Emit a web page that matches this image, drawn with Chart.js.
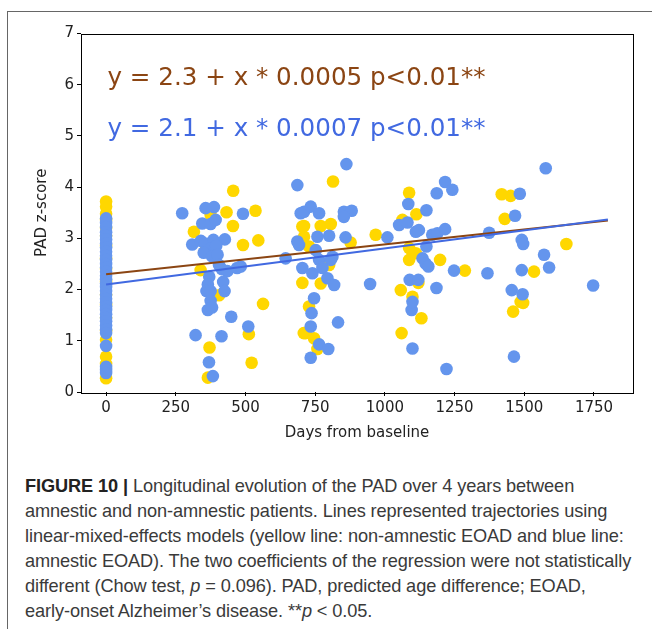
<!DOCTYPE html>
<html>
<head>
<meta charset="utf-8">
<script src="https://cdn.jsdelivr.net/npm/chart.js@4.4.1/dist/chart.umd.min.js"></script>
<style>
  html, body { margin: 0; padding: 0; background: #fff; }
  body { width: 652px; height: 629px; position: relative; overflow: hidden; }
  #frame { position: absolute; left: 7px; top: 11px; width: 700px; height: 700px;
           border-top: 1px solid #666; border-left: 1px solid #666; }
  #chartBox { position: absolute; left: 0; top: 0; }
  #caption { position: absolute; left: 25px; top: 474px; font-family: "Liberation Sans", Arial, sans-serif;
             font-size: 18.2px; line-height: 24.9px; color: #3a3a3a; white-space: nowrap; letter-spacing: -0.1px; }
  #caption b { color: #222; }
</style>
</head>
<body>
<div id="frame"></div>
<div id="chartBox"><canvas id="graphCanvas" width="652" height="446"></canvas></div>
<div id="caption">
  <b>FIGURE 10 |</b> Longitudinal evolution of the PAD over 4 years between<br>
  amnestic and non-amnestic patients. Lines represented trajectories using<br>
  linear-mixed-effects models (yellow line: non-amnestic EOAD and blue line:<br>
  amnestic EOAD). The two coefficients of the regression were not statistically<br>
  different (Chow test, <i>p</i> = 0.096). PAD, predicted age difference; EOAD,<br>
  early-onset Alzheimer’s disease. **<i>p</i> &lt; 0.05.
</div>
<script>
// non-amnestic EOAD (yellow)
const yellowDays = [0, 0, 0, 0, 0, 0, 0, 0, 0, 0, 0, 0, 0, 0, 0, 0, 0, 0,
  315, 357, 339, 405, 371, 365, 375, 432, 456, 455, 491, 536, 546, 563, 512, 522,
  704, 704, 709, 710, 770, 806, 710, 728, 814, 877, 967, 770, 800, 728, 716, 746, 758,
  1087, 1087, 1087, 1057, 1060, 1063, 1113, 1111, 1198, 1287, 1120, 1099, 1131,
  1419, 1451, 1430, 1487, 1460, 1535, 1651, 1496];
const yellowPad = [3.72, 3.62, 3.48, 3.36, 3.2, 3.05, 2.85, 2.6, 2.4, 2.15, 1.9, 1.7, 1.45, 1.2, 1.02, 0.69, 0.55, 0.27,
  3.13, 2.77, 2.38, 1.89, 0.87, 0.28, 3.46, 3.51, 3.93, 3.24, 2.87, 3.54, 2.96, 1.72, 1.13, 0.57,
  3.23, 2.13, 1.15, 3.24, 3.24, 3.28, 3.03, 2.84, 4.11, 2.92, 3.07, 2.12, 2.48, 1.67, 1.15, 1.05, 0.84,
  3.89, 2.81, 2.58, 1.99, 1.15, 3.36, 3.47, 2.71, 2.58, 2.37, 2.13, 1.86, 1.44,
  3.86, 3.83, 3.38, 1.76, 1.57, 2.35, 2.89, 1.74];

// amnestic EOAD (blue)
const blueDays = [0, 0, 0, 0, 0, 0, 0, 0, 0, 0, 0, 0, 0, 0, 0, 0, 0, 0, 0, 0, 0, 0, 0, 0, 0, 0, 0, 0, 0, 0, 0, 0, 0, 0,
  273, 357, 387, 491, 345, 375, 393, 426, 309,
  340, 355, 385, 375, 395, 350, 380, 400,
  405, 415, 435, 470, 483,
  370, 365, 360, 375, 420, 425,
  375, 365, 380, 449, 510, 321, 414, 369, 383,
  686, 698, 686, 692, 644, 704,
  862, 710, 734, 764, 853, 881, 853,
  758, 800, 859, 1009, 1051, 1081, 1084,
  752, 764, 812, 806, 740, 776, 794, 818, 947, 1089,
  746, 737, 734, 832, 764, 797, 734, 1096, 1099,
  1216, 1242, 1186, 1149, 1111, 1122, 1170, 1188, 1216,
  1149, 1135, 1146, 1156, 1248, 1368, 1374, 1120, 1185, 1099, 1221,
  1484, 1467, 1491, 1496, 1491, 1455, 1494, 1463,
  1577, 1571, 1589, 1747];
const bluePad = [3.39, 3.3, 3.22, 3.12, 3.05, 2.98, 2.9, 2.82, 2.74, 2.66, 2.58, 2.5, 2.43, 2.35, 2.27, 2.2, 2.12,
  2.05, 1.97, 1.9, 1.82, 1.75, 1.67, 1.6, 1.52, 1.45, 1.38, 1.3, 1.22, 1.15, 0.9, 0.49, 0.43, 0.37,
  3.49, 3.59, 3.61, 3.48, 3.29, 3.28, 3.36, 2.98, 2.88,
  2.95, 2.9, 2.97, 2.80, 2.85, 2.72, 2.65, 2.68,
  2.48, 2.40, 2.36, 2.42, 2.45,
  2.25, 2.10, 1.97, 1.97, 2.15, 1.97,
  1.78, 1.60, 1.65, 1.47, 1.28, 1.11, 1.09, 0.58, 0.31,
  4.04, 3.49, 2.94, 2.87, 2.61, 2.42,
  4.45, 3.52, 3.62, 3.49, 3.52, 3.54, 3.42,
  3.03, 3.05, 3.02, 3.02, 3.26, 3.31, 3.67,
  2.77, 2.58, 2.64, 2.58, 2.32, 2.42, 2.22, 2.09, 2.11, 2.19,
  1.83, 1.54, 1.28, 1.36, 0.93, 0.84, 0.67, 1.60, 0.85,
  4.10, 3.95, 3.88, 3.55, 3.13, 3.16, 3.07, 3.10, 3.18,
  2.84, 2.61, 2.51, 2.45, 2.37, 2.32, 3.11, 2.19, 2.03, 1.76, 0.45,
  3.87, 3.44, 2.97, 2.89, 2.38, 1.99, 1.91, 0.69,
  4.37, 2.68, 2.43, 2.08];

// regression lines (start / end of follow-up)
const fitDays = [0, 1800];
const fitNonAmnestic = [2.3, 3.35];
const fitAmnestic = [2.1, 3.37];

const xTicks = [0, 250, 500, 750, 1000, 1250, 1500, 1750];
const yTicks = [0, 1, 2, 3, 4, 5, 6, 7];
const eqNonAmnestic = 'y = 2.3 + x * 0.0005 p<0.01**';
const eqAmnestic = 'y = 2.1 + x * 0.0007 p<0.01**';

function toPoints(xs, ys) {
    return xs.map((x, i) => ({ x: x, y: ys[i] }));
}

const frameAndText = {
    id: 'frameAndText',
    afterDatasetsDraw(chart) {
        const ctx = chart.ctx;
        const xs = chart.scales.x, ys = chart.scales.y;
        ctx.save();
        ctx.font = '24.6px "DejaVu Sans"';
        ctx.textBaseline = 'middle';
        ctx.textAlign = 'left';
        ctx.fillStyle = '#8B4513';
        ctx.fillText(eqNonAmnestic, xs.getPixelForValue(5), ys.getPixelForValue(6.12));
        ctx.fillStyle = '#4169E1';
        ctx.fillText(eqAmnestic, xs.getPixelForValue(5), ys.getPixelForValue(5.13));
        ctx.restore();
    },
    afterDraw(chart) {
        const a = chart.chartArea;
        const ctx = chart.ctx;
        ctx.save();
        ctx.strokeStyle = '#000';
        ctx.lineWidth = 1;
        ctx.strokeRect(Math.round(a.left) + 0.5, Math.round(a.top) + 0.5,
            Math.round(a.right - a.left), Math.round(a.bottom - a.top));
        ctx.restore();
    }
};

const canvas = document.getElementById('graphCanvas');
const ctx = canvas.getContext('2d');
new Chart(ctx, {
    type: 'scatter',
    data: {
        datasets: [{
            label: 'non-amnestic',
            data: toPoints(yellowDays, yellowPad),
            backgroundColor: '#FFD700',
            borderWidth: 0,
            pointRadius: 6.3,
            order: 4
        }, {
            label: 'amnestic',
            data: toPoints(blueDays, bluePad),
            backgroundColor: '#6495ED',
            borderWidth: 0,
            pointRadius: 6.3,
            order: 3
        }, {
            label: 'fit non-amnestic',
            data: toPoints(fitDays, fitNonAmnestic),
            showLine: true,
            borderColor: '#8B4513',
            borderWidth: 2,
            pointRadius: 0,
            order: 2
        }, {
            label: 'fit amnestic',
            data: toPoints(fitDays, fitAmnestic),
            showLine: true,
            borderColor: '#4169E1',
            borderWidth: 2,
            pointRadius: 0,
            order: 1
        }]
    },
    options: {
        responsive: false,
        animation: false,
        events: [],
        layout: { padding: { left: 0, right: 19, top: 33.5, bottom: 0 } },
        plugins: { legend: { display: false }, tooltip: { enabled: false } },
        scales: {
            x: {
                type: 'linear',
                position: 'bottom',
                min: -90,
                max: 1890,
                afterBuildTicks: s => { s.ticks = xTicks.map(v => ({ value: v })); },
                afterFit: s => { s.height = 54; },
                grid: { display: true, drawOnChartArea: false, drawTicks: true, tickLength: 4, color: '#000' },
                border: { display: false },
                ticks: { color: '#222', padding: 3, maxRotation: 0, callback: v => String(v),
                         font: { family: 'DejaVu Sans', size: 15 } },
                title: { display: true, text: 'Days from baseline', color: '#222',
                         padding: { top: 0, bottom: 4 }, font: { family: 'DejaVu Sans', size: 15 } }
            },
            y: {
                type: 'linear',
                position: 'left',
                min: 0,
                max: 7,
                afterBuildTicks: s => { s.ticks = yTicks.map(v => ({ value: v })); },
                afterFit: s => { s.width = 81; },
                grid: { display: true, drawOnChartArea: false, drawTicks: true, tickLength: 4, color: '#000' },
                border: { display: false },
                ticks: { color: '#222', padding: 3, callback: v => String(v),
                         font: { family: 'DejaVu Sans', size: 15 } },
                title: { display: true, text: 'PAD z-score', color: '#222',
                         padding: { top: 33, bottom: 0 }, font: { family: 'DejaVu Sans', size: 15 } }
            }
        }
    },
    plugins: [frameAndText]
});
</script>
</body>
</html>
